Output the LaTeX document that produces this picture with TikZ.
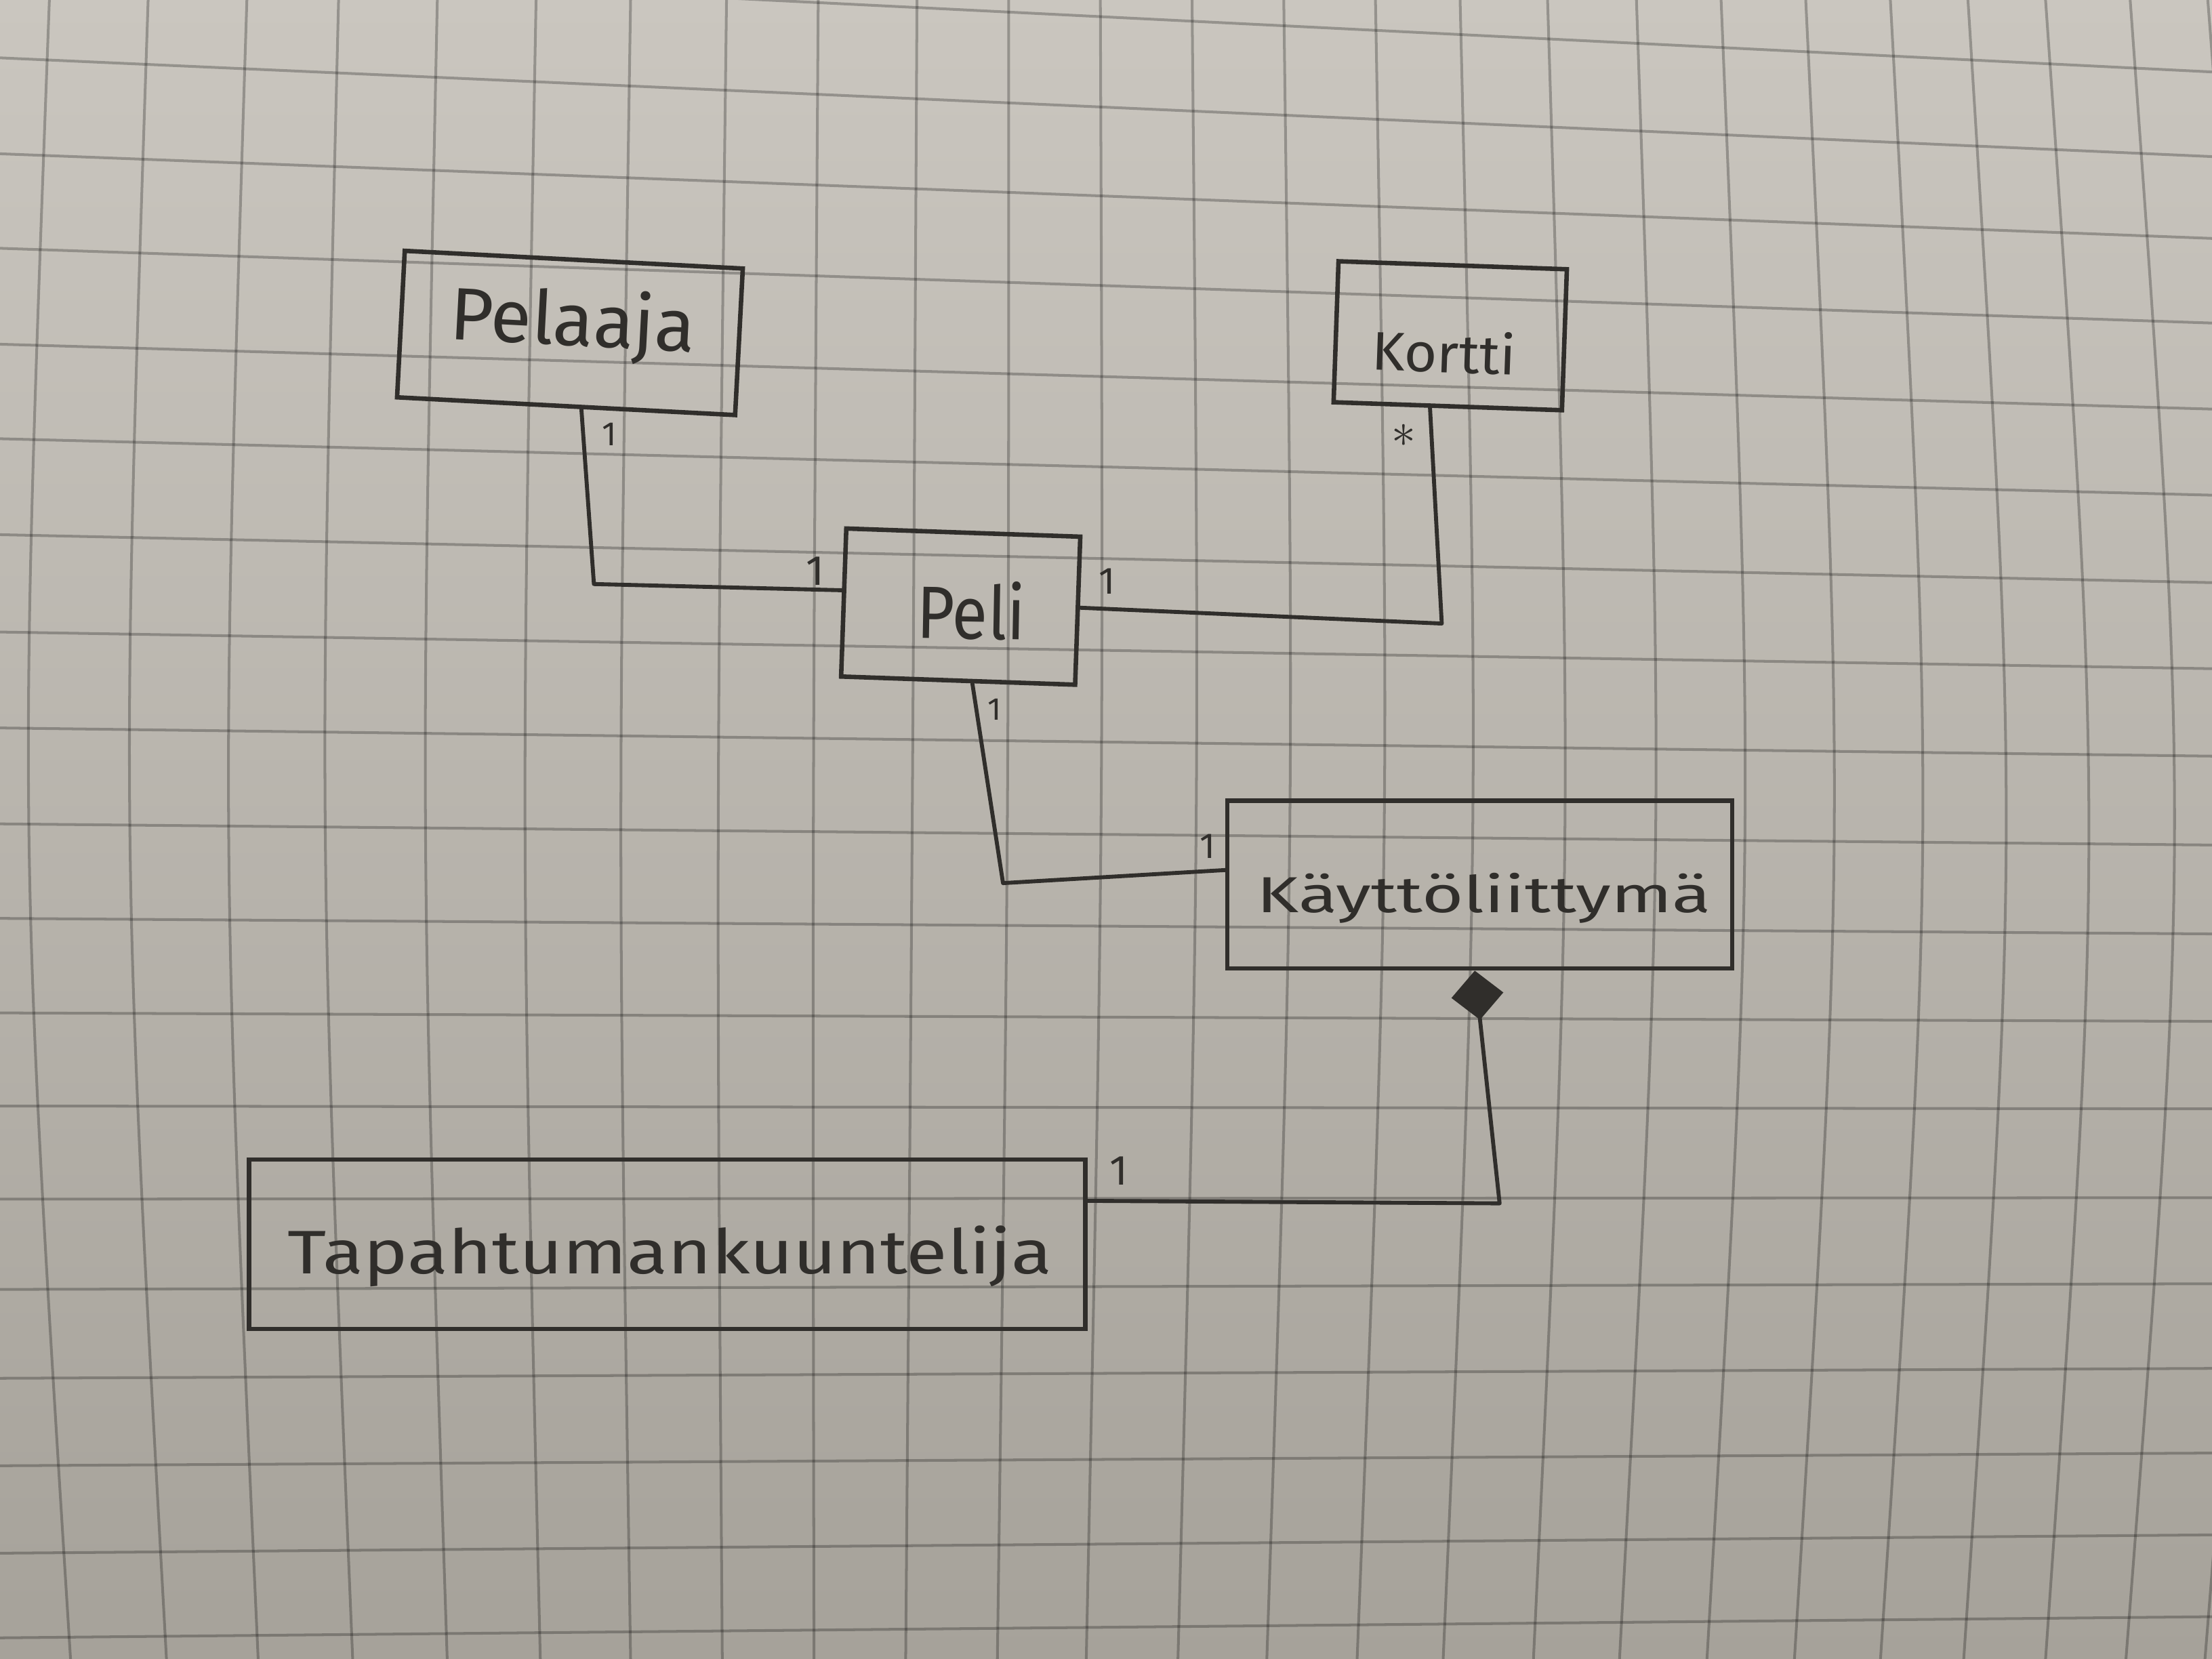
\documentclass[tikz,border=0pt]{standalone}
\usepackage{fontspec}
\usepackage{graphicx}
\newfontfamily\hand{Fira Sans}
\usetikzlibrary{calc,arrows.meta}

\definecolor{paperTop}{RGB}{202,198,191}
\definecolor{paperBot}{RGB}{166,162,154}
\definecolor{pencil}{RGB}{48,46,43}

% a hand-lettered word stretched to a given width and height (cm)
\newcommand\handword[3]{\resizebox{#1cm}{#2cm}{\hand #3}}
% a small multiplicity mark of a given height (cm)
\newcommand\multmark[2]{\resizebox{!}{#1cm}{\hand #2}}

\begin{document}
\begin{tikzpicture}[x=0.02cm, y=-0.02cm,
  classbox/.style={draw=pencil, line width=1.8pt, rectangle, inner sep=0pt},
  nametext/.style={inner sep=0pt, anchor=base, text=pencil},
  multtext/.style={inner sep=0pt, text=pencil},
  assoc/.style={draw=pencil, line width=1.6pt, line join=round, line cap=round},
  gridline/.style={draw=black, opacity=0.26, line width=1.1pt}]

% squared paper
\useasboundingbox (0,0) rectangle (1568,1176);
\shade[top color=paperTop, bottom color=paperBot] (0,0) rectangle (1568,1176);
\begin{scope}
  \clip (0,0) rectangle (1568,1176);
  \foreach \t/\b in {35/50, 105/118, 175/183, 240/250, 310/317, 380/383,
                     447/447, 515/512, 580/577, 650/642, 715/707, 780/770,
                     845/835, 910/898, 975/962, 1035/1023, 1097/1087,
                     1160/1148, 1220/1210, 1280/1272, 1340/1333, 1395/1392,
                     1450/1450, 1510/1507, 1565/1563} {
    \pgfmathsetmacro\cx{(\t+\b)/2 + 2*(-14+0.025*((\t+\b)/2-70))}
    \draw[gridline] (\t,0) .. controls (\cx,588) .. (\b,1176);
  }
  \foreach \l/\r in {-27/51, 41/111, 109/169, 176/229, 244/290, 311/351,
                     379/413, 448/474, 516/536, 584/599, 651/662, 718/724,
                     784/786, 850/849, 914/910, 977/970, 1039/1030,
                     1101/1088, 1161/1146} {
    \draw[gridline] (0,\l) -- (1568,\r);
  }
\end{scope}

% classes
\node[classbox, minimum width=4.8cm, minimum height=2.08cm, rotate=-3]
  (pelaaja) at (404,236) {};
\node[classbox, minimum width=3.24cm, minimum height=2.0cm, rotate=-2]
  (kortti) at (1028,238) {};
\node[classbox, minimum width=3.32cm, minimum height=2.1cm, rotate=-2]
  (peli) at (681,430) {};
\node[classbox, minimum width=7.16cm, minimum height=2.38cm]
  (kaytto) at (1049,627) {};
\node[classbox, minimum width=11.86cm, minimum height=2.4cm]
  (tapa) at (473,882) {};

% class names
\node[nametext, rotate=-3] (pelaaja-name) at (405,245) {\handword{3.48}{0.82}{Pelaaja}};
\node[nametext, rotate=-2] (kortti-name) at (1023,264) {\handword{2.04}{0.6}{Kortti}};
\node[nametext, rotate=-1] (peli-name) at (688,453) {\handword{1.54}{0.82}{Peli}};
\node[nametext] (kaytto-name) at (1052,647) {\handword{6.44}{0.56}{Käyttöliittymä}};
\node[nametext] (tapa-name) at (475,903) {\handword{10.84}{0.68}{Tapahtumankuuntelija}};

% associations
\coordinate (b1) at (421,414);
\draw[assoc] ($(pelaaja.south west)!0.545!(pelaaja.south east)$) -- (b1)
  -- ($(peli.north west)!0.42!(peli.south west)$);
\coordinate (b2) at (1022,442);
\draw[assoc] ($(peli.north east)!0.48!(peli.south east)$) -- (b2)
  -- ($(kortti.south west)!0.424!(kortti.south east)$);
\coordinate (b3) at (711,626);
\draw[assoc] ($(peli.south west)!0.56!(peli.south east)$) -- (b3)
  -- ($(kaytto.north west)!0.416!(kaytto.south west)$);
% composition
\coordinate (b4) at (1063,853);
\draw[assoc, -{Diamond[length=0.7cm, width=0.74cm]}]
  ($(tapa.north east)!0.25!(tapa.south east)$) -- (b4)
  -- ($(kaytto.south west)!0.49!(kaytto.south east)$);

% multiplicities
\node[multtext] (m1) at (432,308) {\multmark{0.32}{1}};
\node[multtext] (m2) at (578,405) {\multmark{0.4}{1}};
\node[multtext] (m3) at (785,412) {\multmark{0.36}{1}};
\node[multtext] (m4) at (995,309) {\resizebox{!}{0.32cm}{$\ast$}};
\node[multtext] (m5) at (705,503) {\multmark{0.3}{1}};
\node[multtext] (m6) at (856,600) {\multmark{0.34}{1}};
\node[multtext] (m7) at (793,830) {\multmark{0.4}{1}};

\end{tikzpicture}
\end{document}
